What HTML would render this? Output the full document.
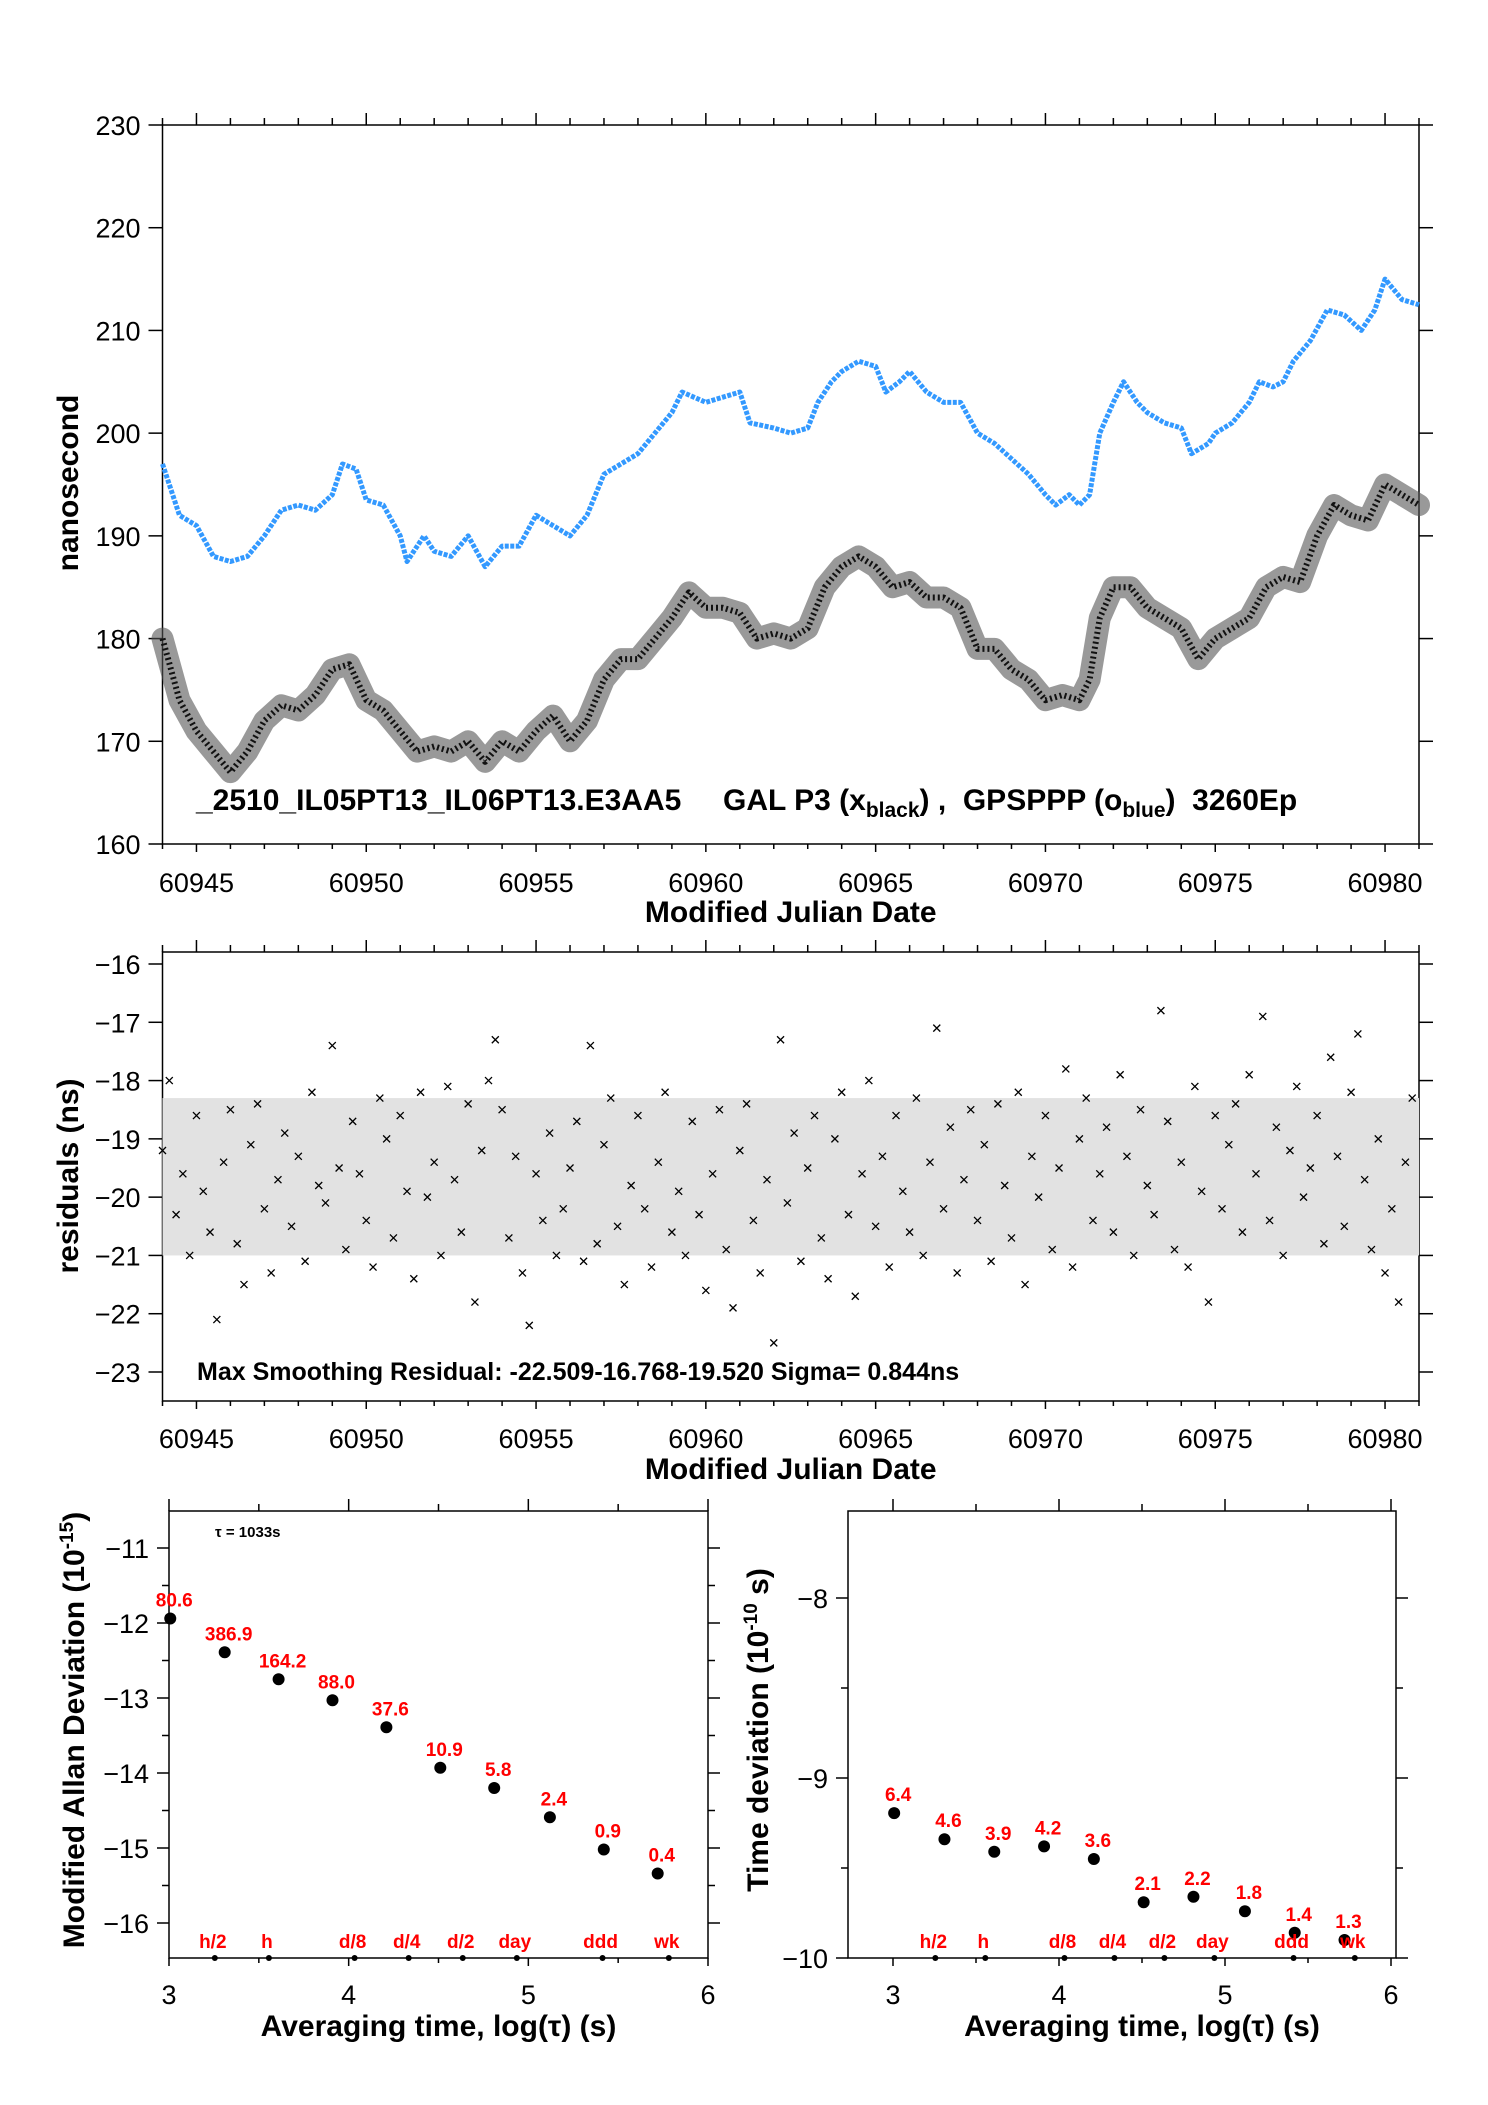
<!DOCTYPE html>
<html><head><meta charset="utf-8"><style>
body{margin:0;background:#fff}
svg{display:block;font-family:"Liberation Sans",sans-serif}
.t{font-size:27px}
.b{font-size:30px;font-weight:bold}
</style></head><body>
<svg id="svg" width="1488" height="2105" xmlns="http://www.w3.org/2000/svg"></svg>
<script>
const blueMjd=[60944,60944.5,60945,60945.5,60946,60946.5,60947,60947.5,60948,60948.5,60949,60949.3,60949.7,60950,60950.5,60951,60951.2,60951.7,60952,60952.5,60953,60953.5,60954,60954.5,60955,60955.5,60956,60956.5,60957,60957.5,60958,60958.5,60959,60959.3,60960,60960.5,60961,60961.3,60962,60962.5,60963,60963.3,60963.7,60964,60964.5,60965,60965.3,60965.7,60966,60966.5,60967,60967.5,60968,60968.5,60969,60969.5,60970,60970.3,60970.7,60971,60971.3,60971.6,60972,60972.3,60972.7,60973,60973.5,60974,60974.3,60974.8,60975,60975.5,60976,60976.3,60976.7,60977,60977.3,60977.8,60978.3,60978.8,60979.3,60979.7,60980,60980.5,60981];
const blueVal=[197,192,191,188,187.5,188,190,192.5,193,192.5,194,197,196.5,193.5,193,190,187.5,190,188.5,188,190,187,189,189,192,191,190,192,196,197,198,200,202,204,203,203.5,204,201,200.5,200,200.5,203,205,206,207,206.5,204,205,206,204,203,203,200,199,197.5,196,194,193,194,193,194,200,203,205,203,202,201,200.5,198,199,200,201,203,205,204.5,205,207,209,212,211.5,210,212,215,213,212.5];
const blackMjd=[60944,60944.5,60945,60945.5,60946,60946.5,60947,60947.5,60948,60948.5,60949,60949.5,60950,60950.5,60951,60951.5,60952,60952.5,60953,60953.5,60954,60954.5,60955,60955.5,60956,60956.5,60957,60957.5,60958,60958.5,60959,60959.5,60960,60960.5,60961,60961.5,60962,60962.5,60963,60963.5,60964,60964.5,60965,60965.5,60966,60966.5,60967,60967.5,60968,60968.5,60969,60969.5,60970,60970.5,60971,60971.3,60971.6,60972,60972.5,60973,60973.5,60974,60974.5,60975,60975.5,60976,60976.5,60977,60977.5,60978,60978.5,60979,60979.5,60980,60980.5,60981];
const blackVal=[180,174,171,169,167,169,172,173.5,173,174.5,177,177.5,174,173,171,169,169.5,169,170,168,170,169,171,172.5,170,172,176,178,178,180,182,184.5,183,183,182.5,180,180.5,180,181,185,187,188,187,185,185.5,184,184,183,179,179,177,176,174,174.5,174,176,182,185,185,183,182,181,178,180,181,182,185,186,185.5,190,193,192,191.5,195,194,193];
const resStart=60944, resStep=0.2;
const resVal=[-19.2,-18.0,-20.3,-19.6,-21.0,-18.6,-19.9,-20.6,-22.1,-19.4,
-18.5,-20.8,-21.5,-19.1,-18.4,-20.2,-21.3,-19.7,-18.9,-20.5,
-19.3,-21.1,-18.2,-19.8,-20.1,-17.4,-19.5,-20.9,-18.7,-19.6,
-20.4,-21.2,-18.3,-19.0,-20.7,-18.6,-19.9,-21.4,-18.2,-20.0,
-19.4,-21.0,-18.1,-19.7,-20.6,-18.4,-21.8,-19.2,-18.0,-17.3,
-18.5,-20.7,-19.3,-21.3,-22.2,-19.6,-20.4,-18.9,-21.0,-20.2,
-19.5,-18.7,-21.1,-17.4,-20.8,-19.1,-18.3,-20.5,-21.5,-19.8,
-18.6,-20.2,-21.2,-19.4,-18.2,-20.6,-19.9,-21.0,-18.7,-20.3,
-21.6,-19.6,-18.5,-20.9,-21.9,-19.2,-18.4,-20.4,-21.3,-19.7,
-22.5,-17.3,-20.1,-18.9,-21.1,-19.5,-18.6,-20.7,-21.4,-19.0,
-18.2,-20.3,-21.7,-19.6,-18.0,-20.5,-19.3,-21.2,-18.6,-19.9,
-20.6,-18.3,-21.0,-19.4,-17.1,-20.2,-18.8,-21.3,-19.7,-18.5,
-20.4,-19.1,-21.1,-18.4,-19.8,-20.7,-18.2,-21.5,-19.3,-20.0,
-18.6,-20.9,-19.5,-17.8,-21.2,-19.0,-18.3,-20.4,-19.6,-18.8,
-20.6,-17.9,-19.3,-21.0,-18.5,-19.8,-20.3,-16.8,-18.7,-20.9,
-19.4,-21.2,-18.1,-19.9,-21.8,-18.6,-20.2,-19.1,-18.4,-20.6,
-17.9,-19.6,-16.9,-20.4,-18.8,-21.0,-19.2,-18.1,-20.0,-19.5,
-18.6,-20.8,-17.6,-19.3,-20.5,-18.2,-17.2,-19.7,-20.9,-19.0,
-21.3,-20.2,-21.8,-19.4,-18.3];
const mjdTicks=[60945,60950,60955,60960,60965,60970,60975,60980];
const topYTicks=[160,170,180,190,200,210,220,230];
const resYTicks=[-16,-17,-18,-19,-20,-21,-22,-23];
const logTau=[3.007,3.31,3.61,3.91,4.21,4.51,4.81,5.12,5.42,5.72];
const madev=[-11.94,-12.39,-12.75,-13.03,-13.39,-13.93,-14.2,-14.59,-15.02,-15.34];
const madevLbl=["80.6","386.9","164.2","88.0","37.6","10.9","5.8","2.4","0.9","0.4"];
const tdev=[-9.195,-9.34,-9.41,-9.38,-9.45,-9.69,-9.66,-9.74,-9.86,-9.9];
const tdevLbl=["6.4","4.6","3.9","4.2","3.6","2.1","2.2","1.8","1.4","1.3"];
const markPos=[3.255,3.556,4.033,4.334,4.635,4.936,5.413,5.782];
const markLbl=["h/2","h","d/8","d/4","d/2","day","ddd","wk"];
const madevTicks=[-11,-12,-13,-14,-15,-16];
const tdevTicks=[-8,-9,-10];
const logTicks=[3,4,5,6];

const S=document.getElementById('svg');const NS='http://www.w3.org/2000/svg';
function el(tag,a,p){const e=document.createElementNS(NS,tag);for(const k in a)e.setAttribute(k,a[k]);(p||S).appendChild(e);return e;}
function lin(d0,d1,r0,r1){return v=>r0+(v-d0)*(r1-r0)/(d1-d0);}
function txt(x,y,s,cls,anchor,fill,nm,fs){const t=el('text',{x:x,y:y,class:cls,'text-anchor':anchor||'middle',fill:fill||'#000'});t.textContent=s;
if(fs)t.style.fontSize=fs+'px';

return t;}
function frame(L,T,R,B,nm){const r=el('rect',{x:L,y:T,width:R-L,height:B-T,fill:'none',stroke:'#000','stroke-width':1.5});

}
function line(x1,y1,x2,y2,w){el('line',{x1:x1,y1:y1,x2:x2,y2:y2,stroke:'#000','stroke-width':w||1.5});}

// ---------- top plot ----------
const XL=162.5,XR=1419;
const xm=lin(60944,60981,XL,XR);
const yt=lin(160,230,844,125);
frame(XL,125,XR,844,'top-plot-frame');
for(let d=60944;d<=60981;d++){const x=xm(d),big=d%5===0;line(x,125,x,125-(big?12:7));line(x,844,x,844+(big?8:5));line(x,952,x,952-(big?12:7));line(x,1401,x,1401+(big?8:5));}
mjdTicks.forEach(v=>{txt(xm(v),892,String(v),'t','middle','#000','x-tick-label');txt(xm(v),1448,String(v),'t','middle','#000','x-tick-label');});
topYTicks.forEach(v=>{const y=yt(v);line(XL-14,y,XL,y);line(XR,y,XR+14,y);txt(XL-22,y+10,String(v),'t','end','#000','y-tick-label');});
let pb=blackMjd.map((m,i)=>xm(m)+','+yt(blackVal[i])).join(' ');
const bb=el('polyline',{points:pb,fill:'none',stroke:'#555','stroke-width':22,'stroke-linejoin':'round','stroke-linecap':'round','stroke-opacity':0.6});


const bl=el('polyline',{points:pb,fill:'none',stroke:'#111','stroke-width':6,'stroke-dasharray':'2 3','stroke-linejoin':'round'});


let pu=blueMjd.map((m,i)=>xm(m)+','+yt(blueVal[i])).join(' ');
const bu=el('polyline',{points:pu,fill:'none',stroke:'#3399ff','stroke-width':5,'stroke-linejoin':'round','stroke-dasharray':'4 1.5'});


const lg=el('text',{x:196,y:810,class:'b'});


lg.innerHTML='_2510_IL05PT13_IL06PT13.E3AA5 &#160;&#160;&#160; GAL P3 (x<tspan style="font-size:21px" dy="7">black</tspan><tspan dy="-7">) ,&#160; GPSPPP (o</tspan><tspan style="font-size:21px" dy="7">blue</tspan><tspan dy="-7">)&#160; 3260Ep</tspan>';
txt((XL+XR)/2,922,'Modified Julian Date','b','middle','#000','x-axis-title');
const yl1=txt(0,0,'nanosecond','b','middle','#000','y-axis-title');yl1.setAttribute('transform','translate(78,483) rotate(-90)');

// ---------- residuals ----------
const yr=lin(-16,-23,964,1372);
frame(XL,952,XR,1401,'residual-plot-frame');
resYTicks.forEach(v=>{const y=yr(v);line(XL-14,y,XL,y);line(XR,y,XR+14,y);txt(XL-22,y+10,'\u2212'+String(-v),'t','end','#000','y-tick-label');});
const band=el('rect',{x:XL,y:yr(-18.3),width:XR-XL,height:yr(-21)-yr(-18.3),fill:'#e2e2e2'});


resVal.forEach((v,i)=>{const x=xm(resStart+i*resStep),y=yr(v);
const m=el('path',{d:`M${x-3.5},${y-3.5}L${x+3.5},${y+3.5}M${x-3.5},${y+3.5}L${x+3.5},${y-3.5}`,stroke:'#000','stroke-width':1.3});

});
txt(197,1380,'Max Smoothing Residual: -22.509-16.768-19.520  Sigma= 0.844ns','b','start','#000','residual-summary',25);
txt((XL+XR)/2,1479,'Modified Julian Date','b','middle','#000','x-axis-title');
const yl2=txt(0,0,'residuals (ns)','b','middle','#000','y-axis-title');yl2.setAttribute('transform','translate(78,1176) rotate(-90)');

// ---------- stability plots ----------
function stab(L,R,T,B,x3,x6,yv,ylo,yhi,yTicks,vals,lbls,name,ytitle,tx){
  const xs=lin(3,6,x3,x6),ys=lin(ylo,yhi,yv[0],yv[1]);
  frame(L,T,R,B,name+'-frame');
  for(let v=3;v<=6.001;v+=0.5){const x=xs(v);if(x>=L&&x<=R){line(x,T,x,T-(v%1===0?12:7));line(x,B,x,B+(v%1===0?8:5));}}
  logTicks.forEach(v=>txt(xs(v),2004,String(v),'t','middle','#000','x-tick-label'));
  for(let v=yTicks[0];v>=yTicks[yTicks.length-1]-0.01;v-=0.5){const y=ys(v);if(y>=T&&y<=B){const big=Math.abs(v-Math.round(v))<0.01;line(L-(big?12:7),y,L,y);line(R,y,R+(big?12:7),y);}}
  yTicks.forEach(v=>txt(L-20,ys(v)+10,'\u2212'+String(-v),'t','end','#000','y-tick-label'));
  vals.forEach((v,i)=>{const c=el('circle',{cx:xs(logTau[i]),cy:ys(v),r:6,fill:'#000'});
    
    
    txt(xs(logTau[i])+4,ys(v)-12,lbls[i],'b','middle','#f00',name+'-value-label',19);});
  markPos.forEach((p,i)=>{const c=el('circle',{cx:xs(p),cy:B,r:3,fill:'#000'});
    
    
    txt(xs(p)-2,B-10,markLbl[i],'b','middle','#f00','tau-marker-label',19);});
  txt(xs(4.5),2036,'Averaging time, log(\u03c4) (s)','b','middle','#000','x-axis-title');
  const yt2=el('text',{class:'b','text-anchor':'middle',transform:`translate(${tx},1730) rotate(-90)`});
  
  
  yt2.innerHTML=ytitle;
}
stab(169,708,1511,1958,169,708,[1623,1698],-12,-13,madevTicks,madev,madevLbl,'madev','Modified Allan Deviation (10<tspan style="font-size:19px" dy="-11">-15</tspan><tspan dy="11">)</tspan>',84);
stab(848,1396,1511,1958,893,1391,[1598,1958],-8,-10,tdevTicks,tdev,tdevLbl,'tdev','Time deviation (10<tspan style="font-size:19px" dy="-11">-10</tspan><tspan dy="11"> s)</tspan>',768);
txt(215,1537,'\u03c4 = 1033s','b','start','#000','tau-annotation',15);
</script>
</body></html>
